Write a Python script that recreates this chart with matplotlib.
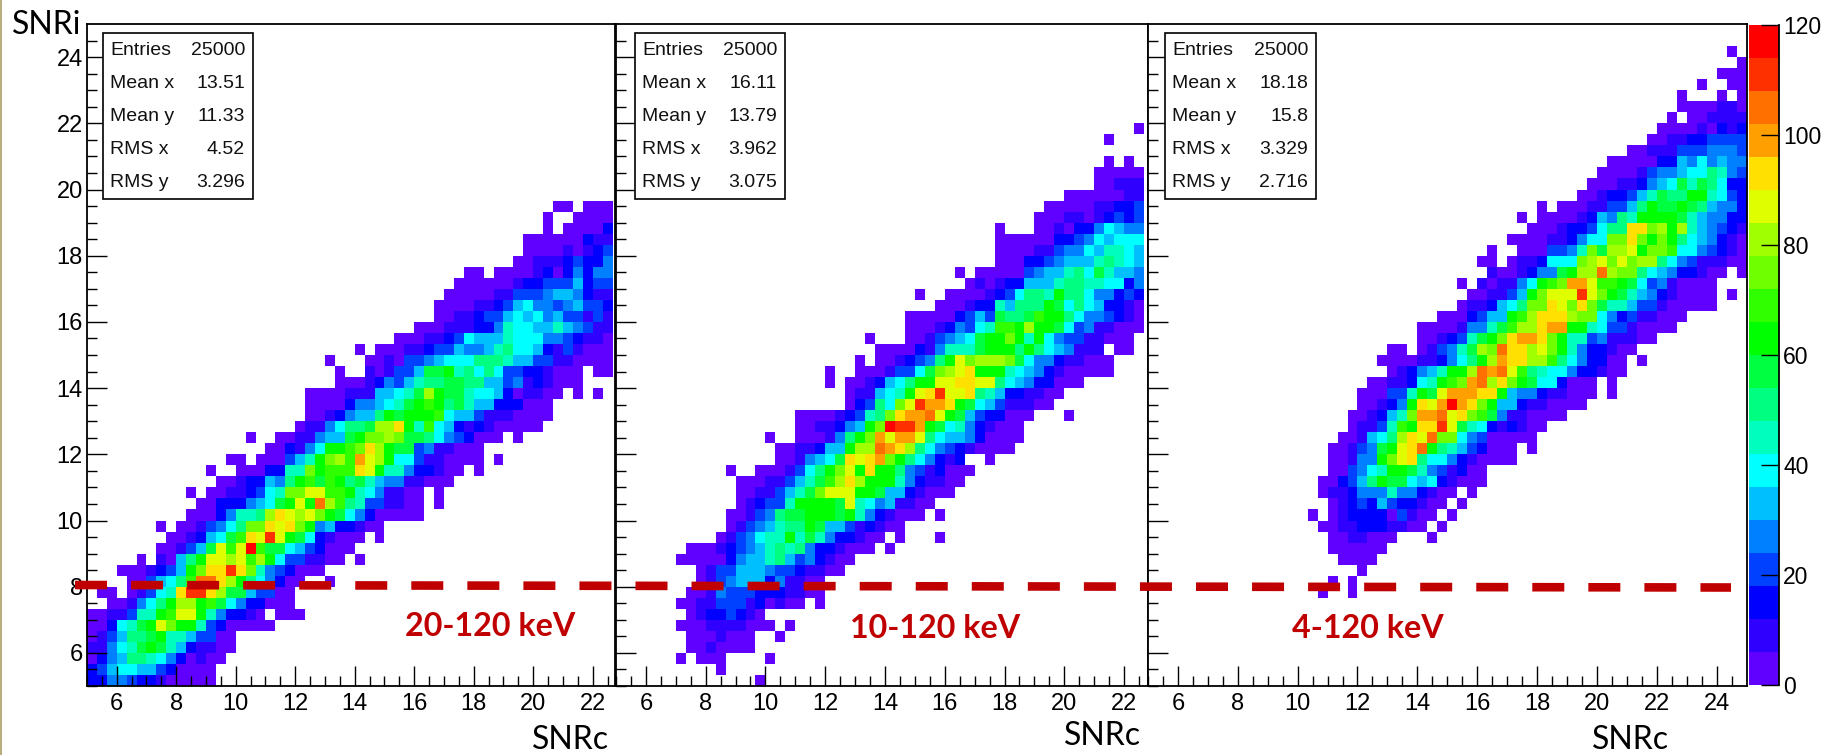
import numpy as np
import matplotlib
matplotlib.use('Agg')
import matplotlib.pyplot as plt
from matplotlib.colors import ListedColormap, BoundaryNorm
from matplotlib.lines import Line2D
from matplotlib.patches import Rectangle

plt.rcParams['font.family'] = ['Liberation Sans', 'DejaVu Sans']
plt.rcParams['lines.scale_dashes'] = False

W, H = 1822, 755

# palette of the z axis, one colour per 6 counts
LEVEL_COLORS = ['#6000ff', '#3000ff', '#0000ff', '#0040ff', '#0080ff', '#00bfff', '#00ffff',
                '#00ffbf', '#00ff80', '#00ff40', '#00ff00', '#30ff00', '#70ff00', '#a0ff00',
                '#dfff00', '#ffe000', '#ffa000', '#ff7000', '#ff3000', '#ff0000']
LEVEL_CODES = '123456789abcdefghijk'
Z_TICKS = [0, 20, 40, 60, 80, 100, 120]

# each row of bins, from the bottom: (first x bin, level code of each bin, . = empty)
P1_ROWS = [
    (0, '3355433211111'), (0, '3467766431111'), (0, '13569987531211'), (0, '22578aba8632211'),
    (0, '124699ab8864411'), (0, '11378abfdbb84311111'), (0, '1122488bcffb853321.111'),
    (2, '112579beebca7533111'), (1, '11.12478gjjgeaa64411'), (4, '114679ciigeb975311..1'),
    (3, '1112346bdggjgd8543111'), (5, '1.2169bffefceb7442211.1'), (7, '11246afcfkcaa7643111'),
    (8, '112367acgfjfba732111.1'), (7, '1.1124579ddgfgdb5633211'), (10, '11135889egfefdba75311111'),
    (11, '11333567abfbiec98442211.1'), (10, '1.11223478ddffccb8752211.1'),
    (13, '11233659bcacb9a865522111'), (12, '1..1113388dbcccgfb88533211.1'),
    (14, '11.111468bdechfeb774221111.1'), (18, '113257bbcdgebaa4522111'),
    (16, '1..1122566abddedaa97543111.1'), (21, '1225799aeegb8c76323211111'),
    (22, '11235669babbbc76642221111'), (22, '1111355678abcb9a866333111'),
    (22, '11112226678aebaa8776312211.1.1'), (25, '11123546899aa996645232111'),
    (25, '1..212446aab8979744332111.11'), (24, '1...1121445677799986644221111'),
    (27, '1.111223446556897763242111'), (31, '1112234766687775543221'),
    (33, '11122233587766865422'), (35, '112234467675644242'), (35, '111122346755456443'),
    (36, '11111224445665322'), (37, '1111112334446344'), (38, '11.111123135355'),
    (43, '1122234335'), (44, '111121234'), (44, '111111322'), (46, '1.11113'),
    (46, '1..1111'), (47, '11.111'),
]
P2_ROWS = [
    (14, '1'), (10, '1'), (6, '1.111....1'), (7, '1121111'), (7, '1112111..1'),
    (6, '1112222111.1'), (7, '12334321'), (6, '1122444231211.1'), (7, '11254443332211'),
    (8, '1245666352211'), (8, '124466654432211'), (6, '111113566896453211'),
    (7, '1112345689895332111.1'), (10, '1245788b8a8533211.1...1'), (11, '12456899ba66423211'),
    (11, '112459aabbbab8532111.1'), (12, '123448bbbbaf87562211'), (12, '1122468adfffbba6632111'),
    (12, '11122468acegebbb8532211'), (11, '1..1112479bdfbgbb95423111'),
    (16, '112567agfghdb975323..1'), (16, '1122366beeihge9754321111'),
    (15, '1..111259bdhfhhf9766531111'), (18, '1122356bdkjjhba78532111'),
    (18, '111123489dghhifba6433111...1'), (23, '13497dfjhhgba764222 11'.replace(' ', '')),
    (23, '122678bfgjffg986332211'), (21, '1.1123679bbffggff976533111'),
    (21, '1..1112447adefgbbb87653211111'), (24, '1.1123459bfdeeeda755322111'),
    (26, '1111325888abbb9b9765222.11'), (25, '1...1124567abbdb8b754422111'),
    (29, '111235478ccbebba74522111'), (29, '111113464a99acbb97554321'),
    (32, '11123386999ba79763321'), (30, '1..11112347998b99755343'),
    (35, '121233666899887735'), (34, '1.111114566897a8665'),
    (38, '111334566689876'), (38, '111122455768876'), (38, '111111334576777'),
    (38, '1...11213357655'), (42, '11122123434'), (43, '1111122334'), (45, '11111122'),
    (48, '11222'), (48, '11111'), (49, '1.1'), (0, ''), (49, '1'), (52, '1'),
]
P3_ROWS = [
    (0, ''), (0, ''), (0, ''), (0, ''), (0, ''), (0, ''), (0, ''), (0, ''),
    (17, '1..1'), (18, '1.1'), (21, '1'), (19, '1111'), (18, '111111'),
    (18, '1122111...1'), (17, '11223332211.1'), (16, '1.123333142 11.1'.replace(' ', '')),
    (18, '123436433211.1'), (17, '12235558553211.1'), (17, '113469baa76732111'),
    (18, '114578bba8542311'), (18, '11255bdfg9775321111'),
    (18, '11245abfgib98643111.1'), (19, '112679egfidd75411111'),
    (20, '12248cbggjfa87323211'), (20, '112368dhhifgdca5221111'),
    (21, '11235bgfhkhgdb663221111'), (21, '111448bafhhhggb655322111.1'),
    (22, '1122378bcdhiegdba773111.1'), (24, '123568bbeihifc9877533211'),
    (23, '1111223579behggeec9753311.1'), (24, '11.12458aediggefdb8533211'),
    (27, '112348abdghhgdb884522211'), (27, '11112558aceeghhbb874421111'),
    (29, '1113466bcegggedd753422111'), (31, '1223679ddgfdgda88644211111'),
    (32, '112246bdfffjfdba865321111.1'), (31, '1.212257bcdhhfccba74521111'),
    (34, '2112355abeeiedd976533211.1'), (33, '11.1223777defdfdee975422211'),
    (34, '1..1114458daeefbddc7754321'), (36, '1111223577ddgdbdb9765321'),
    (38, '1112334799ggdebe865432'), (37, '1.1111236598bbbba865533'),
    (39, '1.111224469baaba96553'), (43, '11233468a99bb8743'), (44, '111223567a8a9733'),
    (45, '111124556779854'), (46, '11111336575655'), (48, '112224445554'),
    (50, '1122334444'), (51, '111121323'), (52, '1.112222'), (53, '1111221'),
    (53, '1...1.1'), (55, '1..11'), (57, '111'), (59, '1'), (58, '1'),
]

STATS_LABELS = ['Entries', 'Mean x', 'Mean y', 'RMS x', 'RMS y']
P1_STATS = ['25000', '13.51', '11.33', '4.52', '3.296']
P2_STATS = ['25000', '16.11', '13.79', '3.962', '3.075']
P3_STATS = ['25000', '18.18', '15.8', '3.329', '2.716']

BIN_EDGES = np.linspace(5, 25, 61)


def to_grid(rows):
    grid = np.full((60, 60), np.nan)
    for j, (first, codes) in enumerate(rows):
        for i, c in enumerate(codes):
            if c != '.':
                # middle of the 6 count wide colour level
                grid[j, first + i] = LEVEL_CODES.index(c) * 6 + 3
    return grid


def px_axes(fig, left, right, top, bottom):
    return fig.add_axes([left / W, 1 - bottom / H, (right - left) / W, (bottom - top) / H])


def put(fig, x, y, s, **kw):
    kw.setdefault('va', 'center')
    fig.text(x / W, 1 - y / H, s, **kw)


fig = plt.figure(figsize=(W / 100, H / 100), dpi=100, facecolor='white')

cmap = ListedColormap(LEVEL_COLORS)
norm = BoundaryNorm(np.linspace(0, 120, 21), cmap.N)

panels = [
    (P1_ROWS, 87, 615, 22.75),
    (P2_ROWS, 616, 1148, 22.8),
    (P3_ROWS, 1148, 1746.5, 25),
]
mesh = None
for n, (rows, left, right, xmax) in enumerate(panels):
    ax = px_axes(fig, left, right, 24, 686)
    mesh = ax.pcolormesh(BIN_EDGES, BIN_EDGES, np.ma.masked_invalid(to_grid(rows)), cmap=cmap, norm=norm)
    ax.set_xlim(5, xmax)
    ax.set_ylim(5, 25)
    ax.set_xticks(np.arange(6, 25 if xmax == 25 else 23, 2))
    ax.set_yticks(np.arange(6, 25, 2))
    ax.set_xticks(np.arange(5, xmax, 0.5), minor=True)
    ax.set_yticks(np.arange(5, 25, 0.5), minor=True)
    ax.tick_params(which='major', direction='in', length=14.5, width=1.0, labelsize=17, pad=5)
    ax.tick_params(which='minor', direction='in', length=7, width=1.0)
    ax.tick_params(axis='y', labelleft=(n == 0), pad=3)
    for s in ax.spines.values():
        s.set_linewidth(1.3)

# z scale
cax = px_axes(fig, 1749, 1779, 25, 685)
cb = fig.colorbar(mesh, cax=cax, ticks=Z_TICKS, spacing='proportional', drawedges=False)
cb.outline.set_visible(False)
cax.spines['right'].set_visible(True)
cax.spines['right'].set_linewidth(1.3)
cax.tick_params(which='major', direction='in', length=13, width=1.0, labelsize=16.5, pad=3)
cax.tick_params(which='minor', length=0)
cb.minorticks_off()

# stat boxes
boxes = [(103, 253, P1_STATS), (635, 785, P2_STATS), (1165, 1316, P3_STATS)]
for x0, x1, stats in boxes:
    fig.add_artist(Rectangle((x0 / W, 1 - 199 / H), (x1 - x0) / W, 166 / H, transform=fig.transFigure,
                             facecolor='white', edgecolor='black', linewidth=1.2, zorder=5))
    for k, (lab, val) in enumerate(zip(STATS_LABELS, stats)):
        y = 50.5 + k * 33
        put(fig, x0 + 7, y, lab, fontsize=14, ha='left', zorder=6, color='#111111')
        put(fig, x1 - 8, y, val, fontsize=14, ha='right', zorder=6, color='#111111')

# threshold line across all panels
fig.add_artist(Line2D([75 / W, 1731 / W], [1 - 585 / H, 1 - 587.5 / H], transform=fig.transFigure,
                      color='#c00000', linewidth=6.2, dashes=(32 * 0.72, 24.05 * 0.72),
                      dash_capstyle='butt', zorder=4))

# hand written labels
lato = ['Lato', 'DejaVu Sans']
put(fig, 12, 25, 'SNRi', fontsize=23, family=lato, ha='left')
for x, y in [(532, 740), (1064, 736), (1592, 740)]:
    put(fig, x, y, 'SNRc', fontsize=23, family=lato, ha='left')
for x, y, s in [(405, 626, '20-120 keV'), (850, 629, '10-120 keV'), (1292, 629, '4-120 keV')]:
    put(fig, x, y, s, fontsize=23.2, family=lato, ha='left', color='#c00000', fontweight='bold', zorder=6)

# tan edge of the slide
fig.add_artist(Rectangle((0, 0), 2 / W, 1, transform=fig.transFigure, facecolor='#b9ae7e',
                         edgecolor='none', zorder=7))

fig.savefig('out.png', dpi=100)
